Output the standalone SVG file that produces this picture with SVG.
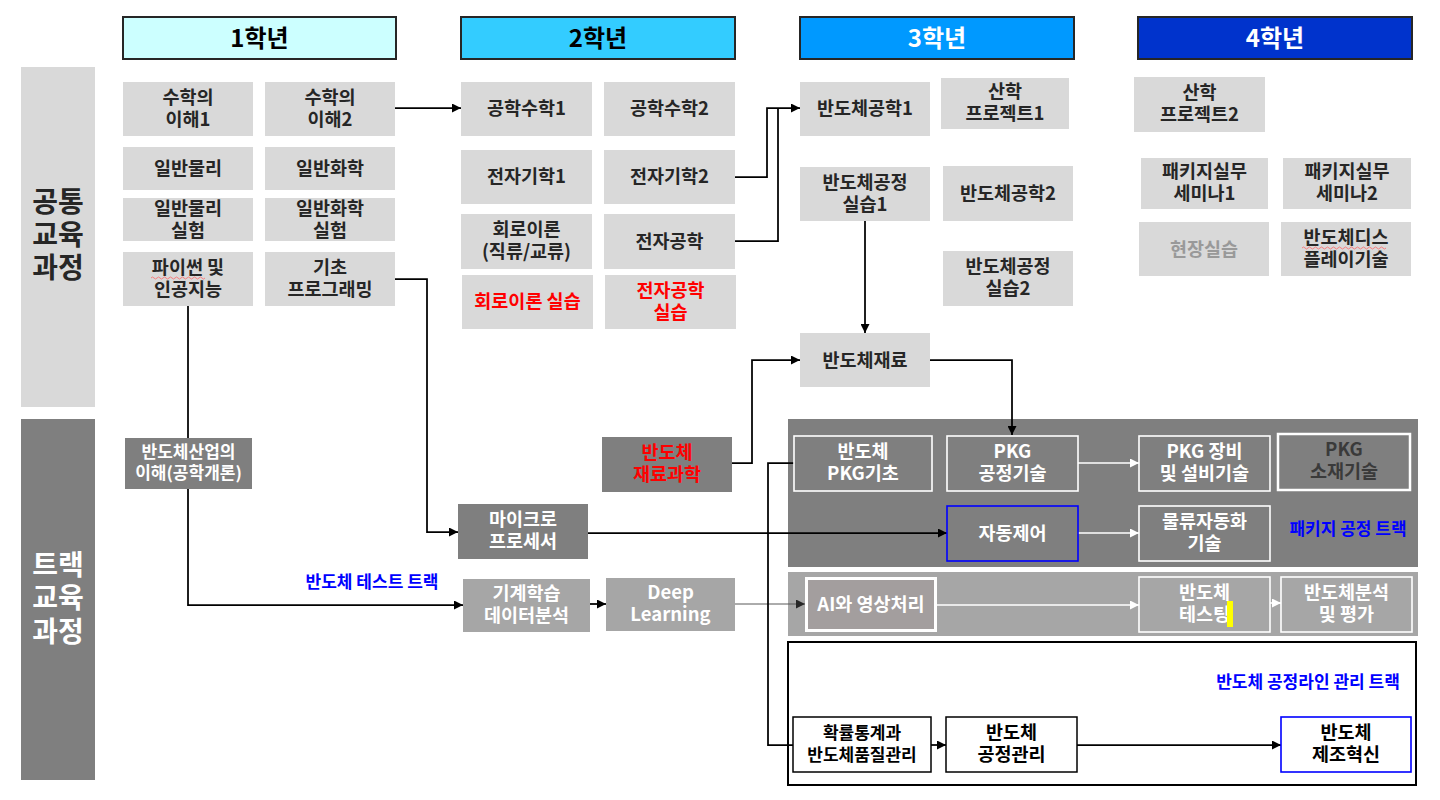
<svg xmlns="http://www.w3.org/2000/svg" width="1440" height="800" viewBox="0 0 1440 800">
<defs>
<marker id="ab" viewBox="0 0 10 10" refX="10" refY="5" markerWidth="9" markerHeight="9" markerUnits="userSpaceOnUse" orient="auto"><path d="M0,0 L10,5 L0,10 z" fill="#000"/></marker>
<marker id="ag" viewBox="0 0 10 10" refX="10" refY="5" markerWidth="9" markerHeight="9" markerUnits="userSpaceOnUse" orient="auto"><path d="M0,0 L10,5 L0,10 z" fill="#262626"/></marker>
<marker id="aw" viewBox="0 0 10 10" refX="10" refY="5" markerWidth="9" markerHeight="9" markerUnits="userSpaceOnUse" orient="auto"><path d="M0,0 L10,5 L0,10 z" fill="#fff"/></marker>
</defs>
<style>
text{font-family:"Noto Sans CJK KR","Noto Sans",sans-serif;font-weight:700;text-anchor:middle}
.t{font-size:18.5px;fill:#262626}
.tw{font-size:18.5px;fill:#fff}
.tr{font-size:18.5px;fill:#ff0000}
.hd{font-size:24px}
.side{font-size:28px}
.lg{fill:#d9d9d9}
.dg{fill:#7f7f7f}
.mg{fill:#a6a6a6}
.wb{fill:none;stroke:#fff;stroke-width:1.6}
.bb{fill:#fff;stroke:#000;stroke-width:1.5}
.blue{fill:#0000ff;font-size:17px}
.c{fill:none;stroke:#000;stroke-width:1.75}
.cw{fill:none;stroke:#fff;stroke-width:1.6}
</style>
<rect width="1440" height="800" fill="#fff"/>

<g id="headers">
<g id="h1"><rect x="123" y="17" width="273" height="42" fill="#ccffff" stroke="#262626" stroke-width="2"/><text class="hd" x="259.5" y="47" fill="#000">1학년</text></g>
<g id="h2"><rect x="461" y="17" width="274" height="42" fill="#33ccff" stroke="#262626" stroke-width="2"/><text class="hd" x="598" y="47" fill="#000">2학년</text></g>
<g id="h3"><rect x="800" y="17" width="274" height="42" fill="#0099ff" stroke="#262626" stroke-width="2"/><text class="hd" x="937" y="47" fill="#fff">3학년</text></g>
<g id="h4"><rect x="1138" y="17" width="274" height="42" fill="#0033cc" stroke="#262626" stroke-width="2"/><text class="hd" x="1275" y="47" fill="#fff">4학년</text></g>
</g>

<g id="side-common"><rect x="21" y="67" width="74" height="340" class="lg"/><text class="side" x="58" fill="#262626"><tspan x="58" y="212">공통</tspan><tspan x="58" y="245">교육</tspan><tspan x="58" y="278">과정</tspan></text></g>
<g id="side-track"><rect x="21" y="419" width="74" height="361" class="dg"/><text class="side" x="58" fill="#fff"><tspan x="58" y="575">트랙</tspan><tspan x="58" y="608">교육</tspan><tspan x="58" y="642">과정</tspan></text></g>

<g id="panel-pkg"><rect x="788" y="419" width="630" height="148" class="dg"/><text class="blue" x="1348" y="535">패키지 공정 트랙</text></g>
<g id="panel-test"><rect x="788" y="572" width="630" height="64" class="mg"/></g>
<g id="panel-line"><rect x="788" y="642" width="628" height="143" fill="#fff" stroke="#000" stroke-width="2"/><text class="blue" x="1308" y="688">반도체 공정라인 관리 트랙</text></g>
<g id="label-test"><text class="blue" x="372" y="588">반도체 테스트 트랙</text></g>

<g id="connectors">
<path class="c" d="M395,108 H461" marker-end="url(#ab)"/>
<path class="c" d="M735,177 H767 V108 H800" marker-end="url(#ab)"/>
<path class="c" d="M735,241 H778 V108"/>
<path class="c" d="M865,221 V333" marker-end="url(#ab)"/>
<path class="c" d="M930,360 H1012 V435" marker-end="url(#ab)"/>
<path class="c" d="M732,463 H752 V360 H800" marker-end="url(#ab)"/>
<path class="c" d="M395,279 H427 V532 H458" marker-end="url(#ab)"/>
<path class="c" d="M188,306 V438"/>
<path class="c" d="M188,489 V605 H463" marker-end="url(#ab)"/>
<path class="c" d="M588,533 H947" marker-end="url(#ab)"/>
<path class="c" d="M590,604 H606" marker-end="url(#ab)"/>
<path fill="none" stroke="#595959" stroke-width="1" d="M735,604 H805" marker-end="url(#ag)"/>
<path class="c" d="M794,463 H768 V745 H793"/>
<path class="c" d="M931,745 H946" marker-end="url(#ab)"/>
<path class="c" d="M1077,745 H1281" marker-end="url(#ab)"/>
<path class="cw" d="M1078,463 H1139" marker-end="url(#aw)"/>
<path class="cw" d="M1078,533 H1139" marker-end="url(#aw)"/>
<path class="cw" d="M937,605 H1139" marker-end="url(#aw)"/>
<path class="cw" d="M1270,603 H1281" marker-end="url(#aw)"/>
</g>

<g id="math1"><rect x="123" y="82" width="130" height="54" class="lg"/><text class="t"><tspan x="188" y="104">수학의</tspan><tspan x="188" y="126">이해1</tspan></text></g>
<g id="math2"><rect x="265" y="82" width="130" height="54" class="lg"/><text class="t"><tspan x="330" y="104">수학의</tspan><tspan x="330" y="126">이해2</tspan></text></g>
<g id="phys"><rect x="123" y="147" width="130" height="43" class="lg"/><text class="t" x="188" y="175">일반물리</text></g>
<g id="chem"><rect x="265" y="147" width="130" height="43" class="lg"/><text class="t" x="330" y="175">일반화학</text></g>
<g id="physlab"><rect x="123" y="198" width="130" height="43" class="lg"/><text class="t"><tspan x="188" y="215">일반물리</tspan><tspan x="188" y="237">실험</tspan></text></g>
<g id="chemlab"><rect x="265" y="198" width="130" height="43" class="lg"/><text class="t"><tspan x="330" y="215">일반화학</tspan><tspan x="330" y="237">실험</tspan></text></g>
<g id="python"><rect x="123" y="252" width="130" height="54" class="lg"/><text class="t"><tspan x="188" y="274">파이썬 및</tspan><tspan x="188" y="296">인공지능</tspan></text><path d="M151,278 q1.5,-2 3,0 t3,0 t3,0 t3,0 t3,0 t3,0 t3,0 t3,0 t3,0 t3,0 t3,0 t3,0 t3,0 t3,0 t3,0 t3,0 t3,0 t3,0" fill="none" stroke="#ff6666" stroke-width="0.8"/></g>
<g id="basicprog"><rect x="265" y="252" width="130" height="54" class="lg"/><text class="t"><tspan x="330" y="274">기초</tspan><tspan x="330" y="296">프로그래밍</tspan></text></g>

<g id="engmath1"><rect x="461" y="82" width="131" height="54" class="lg"/><text class="t" x="526.5" y="115">공학수학1</text></g>
<g id="engmath2"><rect x="604" y="82" width="131" height="54" class="lg"/><text class="t" x="669.5" y="115">공학수학2</text></g>
<g id="em1"><rect x="461" y="150" width="131" height="54" class="lg"/><text class="t" x="526.5" y="183">전자기학1</text></g>
<g id="em2"><rect x="604" y="150" width="131" height="54" class="lg"/><text class="t" x="669.5" y="183">전자기학2</text></g>
<g id="circuit"><rect x="461" y="214" width="131" height="55" class="lg"/><text class="t"><tspan x="526.5" y="236">회로이론</tspan><tspan x="526.5" y="258">(직류/교류)</tspan></text></g>
<g id="electronics"><rect x="604" y="214" width="131" height="55" class="lg"/><text class="t" x="669.5" y="248">전자공학</text></g>
<g id="circuitlab"><rect x="462" y="275" width="131" height="54" class="lg"/><text class="tr" x="527.5" y="308">회로이론 실습</text></g>
<g id="eleclab"><rect x="605" y="275" width="131" height="54" class="lg"/><text class="tr"><tspan x="670.5" y="297">전자공학</tspan><tspan x="670.5" y="319">실습</tspan></text></g>

<g id="semi1"><rect x="800" y="82" width="130" height="54" class="lg"/><text class="t" x="865" y="115">반도체공학1</text></g>
<g id="proj1"><rect x="941" y="78" width="128" height="51" class="lg"/><text class="t"><tspan x="1005" y="98">산학</tspan><tspan x="1005" y="120">프로젝트1</tspan></text></g>
<g id="proclab1"><rect x="800" y="167" width="130" height="54" class="lg"/><text class="t"><tspan x="865" y="189">반도체공정</tspan><tspan x="865" y="211">실습1</tspan></text></g>
<g id="semi2"><rect x="943" y="166" width="130" height="55" class="lg"/><text class="t" x="1008" y="200">반도체공학2</text></g>
<g id="proclab2"><rect x="943" y="251" width="130" height="55" class="lg"/><text class="t"><tspan x="1008" y="273">반도체공정</tspan><tspan x="1008" y="295">실습2</tspan></text></g>
<g id="material"><rect x="800" y="333" width="130" height="54" class="lg"/><text class="t" x="865" y="367">반도체재료</text></g>

<g id="proj2"><rect x="1134" y="77" width="131" height="55" class="lg"/><text class="t"><tspan x="1199.5" y="99">산학</tspan><tspan x="1199.5" y="121">프로젝트2</tspan></text></g>
<g id="seminar1"><rect x="1141" y="158" width="127" height="51" class="lg"/><text class="t"><tspan x="1204.5" y="178">패키지실무</tspan><tspan x="1204.5" y="200">세미나1</tspan></text></g>
<g id="seminar2"><rect x="1283" y="158" width="128" height="51" class="lg"/><text class="t"><tspan x="1347" y="178">패키지실무</tspan><tspan x="1347" y="200">세미나2</tspan></text></g>
<g id="fieldwork"><rect x="1139" y="222" width="130" height="54" class="lg"/><text class="t" x="1204" y="256" style="fill:#999">현장실습</text></g>
<g id="display"><rect x="1281" y="222" width="130" height="54" class="lg"/><text class="t"><tspan x="1346" y="244">반도체디스</tspan><tspan x="1346" y="266">플레이기술</tspan></text><path d="M1302,248 q1.5,-2 3,0 t3,0 t3,0 t3,0 t3,0 t3,0 t3,0 t3,0 t3,0 t3,0 t3,0 t3,0 t3,0 t3,0 t3,0 t3,0 t3,0 t3,0 t3,0 t3,0 t3,0 t3,0 t3,0 t3,0 t3,0 t3,0 t3,0 t3,0" fill="none" stroke="#ff6666" stroke-width="0.8"/></g>

<g id="industry"><rect x="125" y="438" width="127" height="51" class="dg"/><text class="tw" style="font-size:17px"><tspan x="188.5" y="458">반도체산업의</tspan><tspan x="188.5" y="479">이해(공학개론)</tspan></text></g>
<g id="matsci"><rect x="602" y="437" width="130" height="55" class="dg"/><text class="tr"><tspan x="667" y="459">반도체</tspan><tspan x="667" y="481">재료과학</tspan></text></g>
<g id="micro"><rect x="458" y="504" width="130" height="55" class="dg"/><text class="tw"><tspan x="523" y="526">마이크로</tspan><tspan x="523" y="548">프로세서</tspan></text></g>
<g id="ml"><rect x="463" y="579" width="127" height="53" class="mg"/><text class="tw"><tspan x="526.5" y="600">기계학습</tspan><tspan x="526.5" y="622">데이터분석</tspan></text></g>
<g id="dl"><rect x="606" y="578" width="129" height="53" class="mg"/><text class="tw"><tspan x="670.5" y="599">Deep</tspan><tspan x="670.5" y="621">Learning</tspan></text></g>

<g id="pkgbasic"><rect x="794" y="436" width="138" height="55" class="wb"/><text class="tw"><tspan x="863" y="458">반도체</tspan><tspan x="863" y="480">PKG기초</tspan></text></g>
<g id="pkgproc"><rect x="947" y="436" width="131" height="55" class="wb"/><text class="tw"><tspan x="1012.5" y="458">PKG</tspan><tspan x="1012.5" y="480">공정기술</tspan></text></g>
<g id="pkgequip"><rect x="1139" y="436" width="131" height="55" class="wb"/><text class="tw"><tspan x="1204.5" y="458">PKG 장비</tspan><tspan x="1204.5" y="480">및 설비기술</tspan></text></g>
<g id="pkgmat"><rect x="1278" y="434" width="132" height="56" fill="none" stroke="#fff" stroke-width="2.5"/><text class="t" style="fill:#3a3a3a"><tspan x="1344" y="456">PKG</tspan><tspan x="1344" y="478">소재기술</tspan></text></g>
<g id="autoctrl"><rect x="947" y="506" width="131" height="55" fill="none" stroke="#0000ff" stroke-width="1.6"/><text class="tw" x="1012.5" y="540">자동제어</text></g>
<g id="logistics"><rect x="1139" y="506" width="131" height="55" class="wb"/><text class="tw"><tspan x="1204.5" y="528">물류자동화</tspan><tspan x="1204.5" y="550">기술</tspan></text></g>

<g id="aivision"><rect x="806.5" y="578.5" width="129" height="52" fill="#a39e9e" stroke="#fff" stroke-width="3"/><text class="tw" x="871" y="611">AI와 영상처리</text></g>
<g id="testing"><rect x="1139" y="577" width="131" height="55" class="wb"/><text class="tw"><tspan x="1204.5" y="599">반도체</tspan><tspan x="1204.5" y="621">테스팅</tspan></text><rect x="1227" y="601" width="6" height="26" fill="#ffff00"/></g>
<g id="analysis"><rect x="1281" y="577" width="131" height="55" class="wb"/><text class="tw"><tspan x="1346.5" y="599">반도체분석</tspan><tspan x="1346.5" y="621">및 평가</tspan></text></g>

<g id="quality"><rect x="793" y="717" width="138" height="55" class="bb"/><text class="t" style="fill:#000;font-size:17px"><tspan x="862" y="739">확률통계과</tspan><tspan x="862" y="761">반도체품질관리</tspan></text></g>
<g id="procmgmt"><rect x="946" y="717" width="131" height="55" class="bb"/><text class="t" style="fill:#000"><tspan x="1011.5" y="739">반도체</tspan><tspan x="1011.5" y="761">공정관리</tspan></text></g>
<g id="innovation"><rect x="1281" y="717" width="130" height="55" fill="#fff" stroke="#0000ff" stroke-width="1.6"/><text class="t" style="fill:#000"><tspan x="1346" y="739">반도체</tspan><tspan x="1346" y="761">제조혁신</tspan></text></g>
</svg>
